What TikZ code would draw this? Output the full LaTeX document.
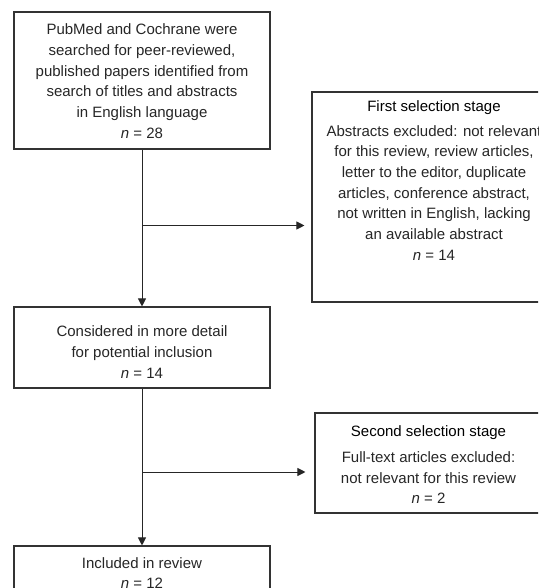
\documentclass[tikz,border=0pt]{standalone}
\usepackage{fontspec}
\setmainfont{Liberation Sans}
\usetikzlibrary{arrows.meta}
\begin{document}
\begin{tikzpicture}[x=1pt,y=-1pt,
  box/.style={draw=black!80, line width=1.1pt, rectangle, inner sep=0pt},
  txt/.style={align=center, inner sep=0pt, text=black!85,
    font=\fontsize{15}{20.7}\selectfont},
  arr/.style={draw=black!85, line width=1pt, -{Triangle[length=8pt,width=8pt]}}]
\useasboundingbox (0,0) rectangle (538,588);
\clip (0,0) rectangle (538,588);
% boxes
\node[box, minimum width=256pt, minimum height=137pt] (b1) at (142,80.5) {};
\node[box, minimum width=244pt, minimum height=210pt] (b2) at (434,197) {};
\node[box, minimum width=256pt, minimum height=81pt] (b3) at (142,347.5) {};
\node[box, minimum width=227pt, minimum height=100pt] (b4) at (428.5,463) {};
\node[box, minimum width=256pt, minimum height=53pt] (b5) at (142,572.5) {};
% texts
\node[txt] (t1) at (142,81) {PubMed and Cochrane were\\searched for peer-reviewed,\\published papers identified from\\search of titles and abstracts\\in English language\\\textit{n} = 28};
\node[txt] (t2) at (434,180.5) {\textcolor{black}{First selection stage}\\[4pt]Abstracts excluded: not relevant\\for this review, review articles,\\letter to the editor, duplicate\\articles, conference abstract,\\not written in English, lacking\\an available abstract\\\textit{n} = 14};
\node[txt] (t3) at (142,352) {Considered in more detail\\for potential inclusion\\\textit{n} = 14};
\node[txt] (t4) at (428.5,465) {\textcolor{black}{Second selection stage}\\[5pt]Full-text articles excluded:\\not relevant for this review\\\textit{n} = 2};
\node[txt] (t5) at (142,573) {Included in review\\\textit{n} = 12};
% connectors
\coordinate (j1) at (142,225.5);
\coordinate (j2) at (142,472);
\draw[arr] (b1.south) -- (b3.north);
\draw[arr, shorten >=7pt] (j1) -- (j1 -| b2.west);
\draw[arr] (b3.south) -- (b5.north);
\draw[arr, shorten >=9pt] (j2) -- (j2 -| b4.west);
\end{tikzpicture}
\end{document}
